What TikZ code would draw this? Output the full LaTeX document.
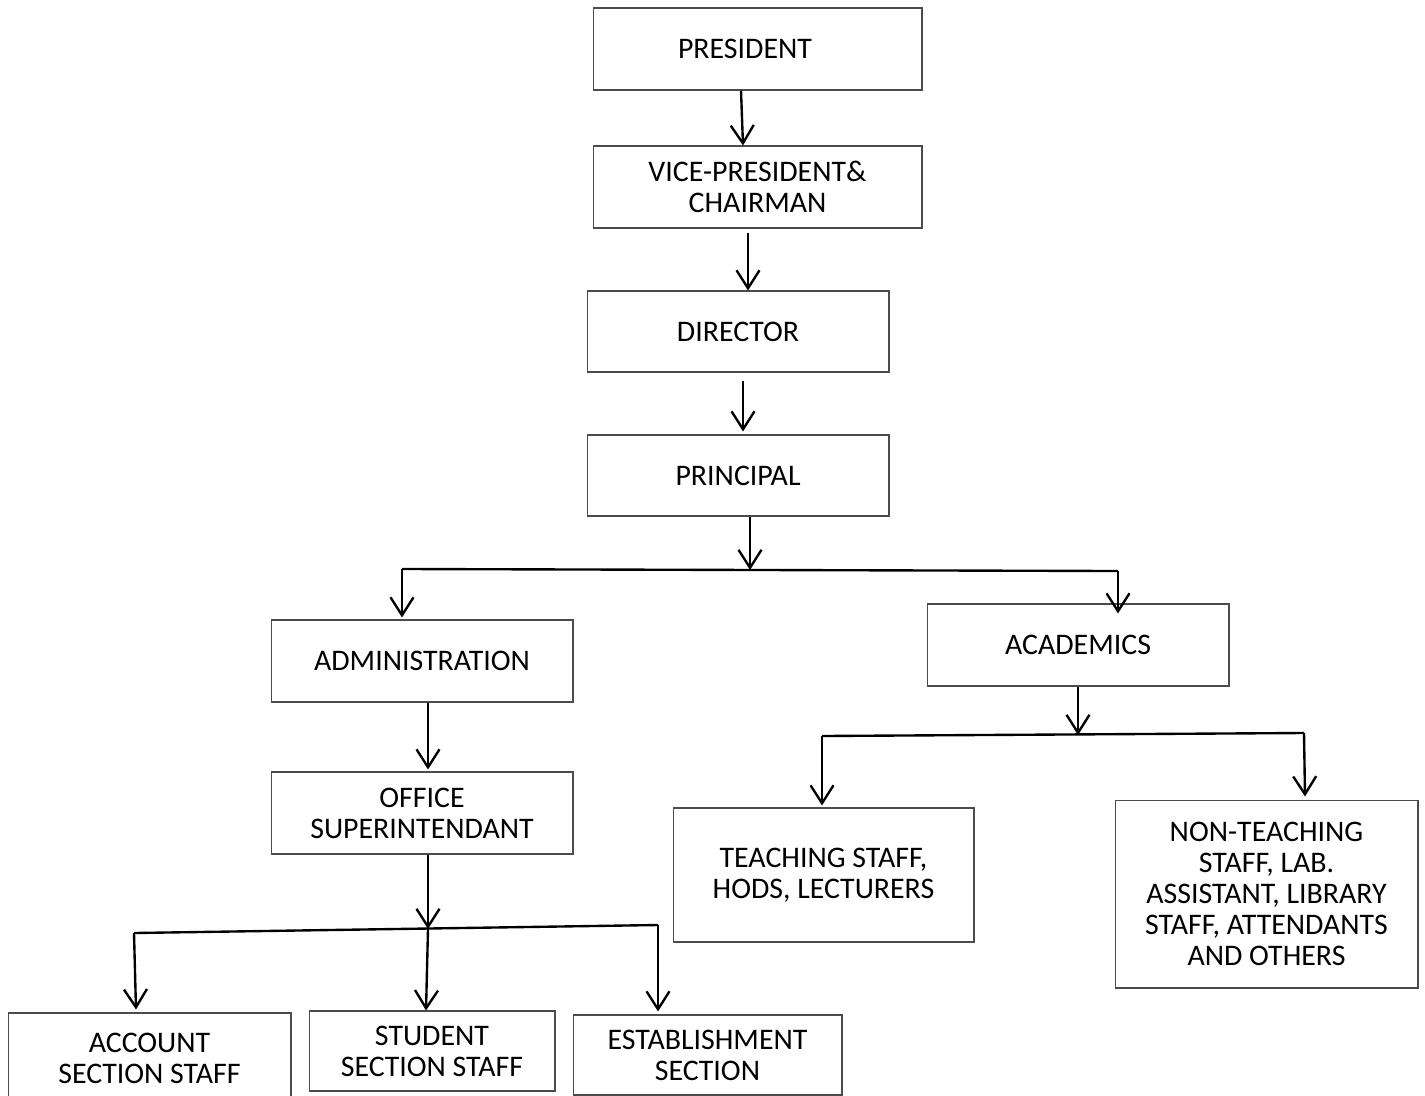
\documentclass[tikz,border=0pt]{standalone}
\usepackage{fontspec}
\setmainfont{Carlito}
\usetikzlibrary{positioning,arrows.meta,calc}

\begin{document}
\begin{tikzpicture}[
  x=0.02cm, y=-0.02cm,
  orgbox/.style={rectangle, draw=black!70, line width=0.6pt, align=center, inner sep=0pt, font=\fontsize{17}{17.6}\selectfont},
  arrow/.style={-{Straight Barb[length=3.6mm, width=4.6mm]}, line width=1.35pt},
  link/.style={line width=1.35pt}
  ]
  \useasboundingbox (0,0) rectangle (1425,1095);
  % chain of command
  \node[orgbox, minimum width=6.58cm, minimum height=1.64cm] (pres) at (757.5,49) {PRESIDENT\hspace*{0.5cm}};
  \node[orgbox, minimum width=6.58cm, minimum height=1.64cm] (vp) at (757.5,187) {VICE-PRESIDENT\&\\CHAIRMAN};
  \node[orgbox, minimum width=6.04cm, minimum height=1.62cm] (dir) at (738,331.5) {DIRECTOR};
  \node[orgbox, minimum width=6.04cm, minimum height=1.62cm] (prin) at (738,475.5) {PRINCIPAL};
  % wings
  \node[orgbox, minimum width=6.04cm, minimum height=1.64cm] (admin) at (422,661) {ADMINISTRATION};
  \node[orgbox, minimum width=6.04cm, minimum height=1.64cm] (acad) at (1078,645) {ACADEMICS};
  \node[orgbox, minimum width=6.04cm, minimum height=1.64cm] (office) at (422,813) {OFFICE\\SUPERINTENDANT};
  \node[orgbox, minimum width=6.02cm, minimum height=2.68cm] (teach) at (823.5,875) {TEACHING STAFF,\\HODS, LECTURERS};
  \node[orgbox, minimum width=6.06cm, minimum height=3.76cm] (nonteach) at (1266.5,894) {NON-TEACHING\\STAFF, LAB.\\ASSISTANT, LIBRARY\\STAFF, ATTENDANTS\\AND OTHERS};
  \node[orgbox, minimum width=5.66cm, minimum height=1.8cm] (account) at (149.5,1058) {ACCOUNT\\SECTION STAFF};
  \node[orgbox, minimum width=4.92cm, minimum height=1.6cm] (student) at (432,1051) {STUDENT\\SECTION STAFF};
  \node[orgbox, minimum width=5.38cm, minimum height=1.6cm] (estab) at (707.5,1055) {ESTABLISHMENT\\SECTION};
  % branch points
  \coordinate (b1m) at (750,570);
  \coordinate (b1l) at (402,569);
  \coordinate (b1r) at (1118,571);
  \coordinate (b2m) at (428,929);
  \coordinate (b2l) at (134,933);
  \coordinate (b2r) at (658,925);
  \coordinate (b3m) at (1078,735);
  \coordinate (b3l) at (822,736);
  \coordinate (b3r) at (1304,733);
  % connectors
  \draw[arrow] ($(pres.south)+(-16.5,0)$) -- ($(vp.north)+(-14.5,0)$);
  \draw[arrow] ($(vp.south)+(-9.5,4)$) -- ($(dir.north)+(10,0)$);
  \draw[arrow] ($(dir.south)+(5,8)$) -- ($(prin.north)+(5,-3)$);
  \draw[arrow] ($(prin.south)+(12,0)$) -- (b1m);
  \draw[link] (b1l) -- (b1r);
  \draw[arrow] (b1l) -- ($(admin.north)+(-20,-2)$);
  \draw[arrow] (b1r) -- ($(acad.north)+(40,10)$);
  \draw[arrow] ($(admin.south)+(6,0)$) -- ($(office.north)+(6,-2)$);
  \draw[arrow] ($(office.south)+(6,0)$) -- (b2m);
  \draw[link] (b2l) -- (b2r);
  \draw[arrow] (b2l) -- ($(account.north)+(-13.5,-3)$);
  \draw[arrow] (b2m) -- ($(student.north)+(-6,0)$);
  \draw[arrow] (b2r) -- ($(estab.north)+(-49.5,-3)$);
  \draw[arrow] (acad.south) -- (b3m);
  \draw[link] (b3l) -- (b3r);
  \draw[arrow] (b3l) -- ($(teach.north)+(-1.5,-2)$);
  \draw[arrow] (b3r) -- ($(nonteach.north)+(38.5,-3)$);
\end{tikzpicture}
\end{document}
